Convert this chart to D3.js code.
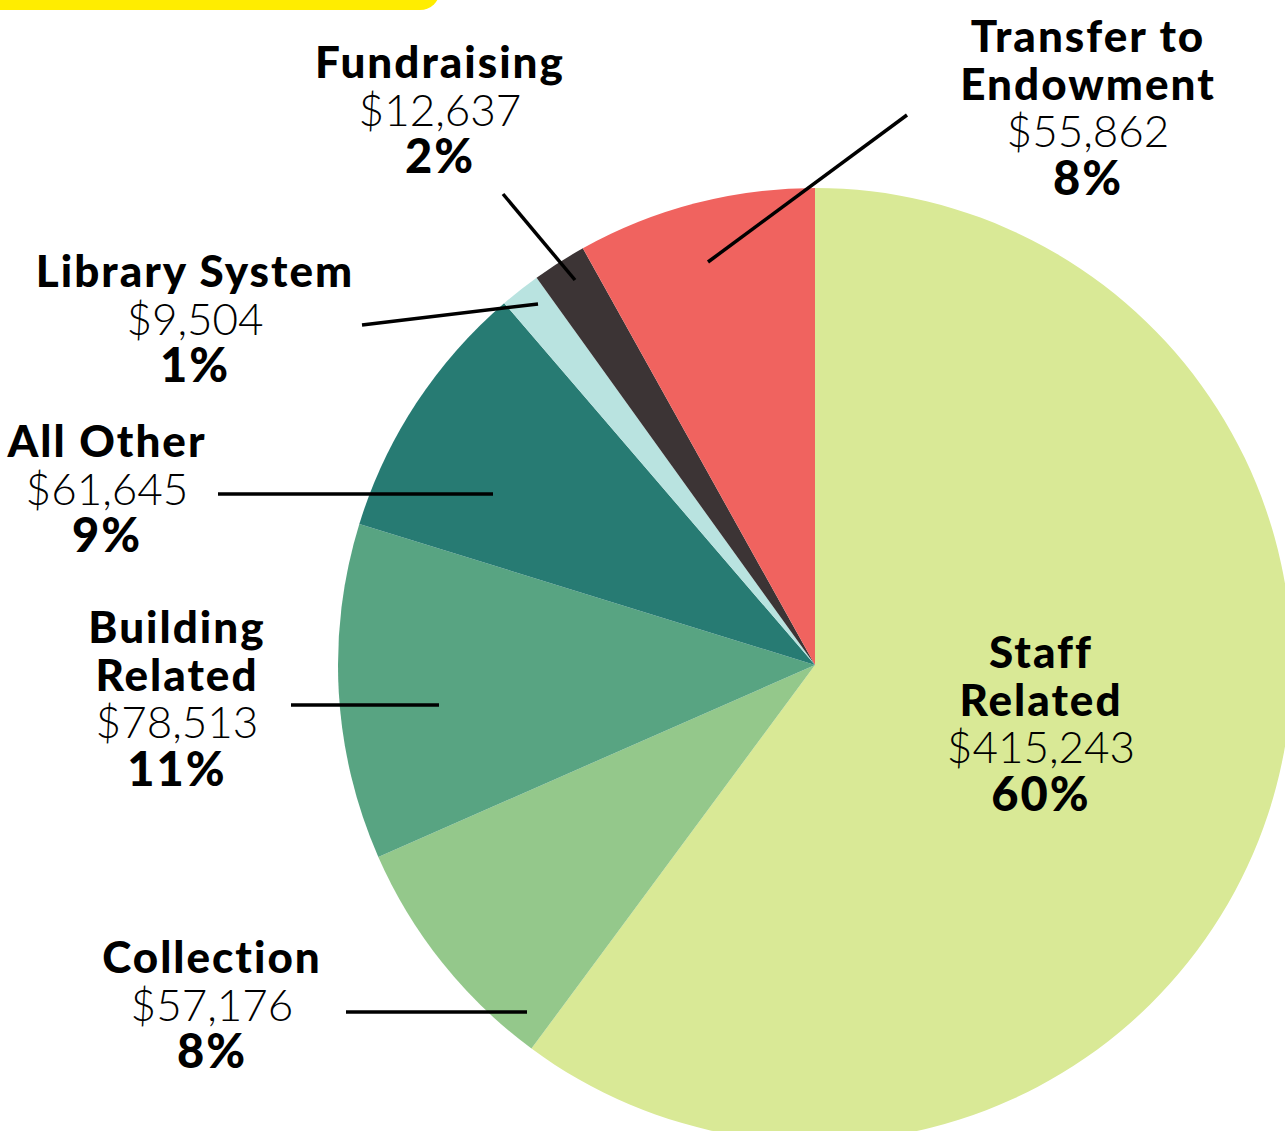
<!DOCTYPE html>
<html>
<head>
<meta charset="utf-8">
<script src="https://cdn.jsdelivr.net/npm/d3@7"></script>
<style>
  body { margin: 0; background: #fff; }
  svg { display: block; }
  .name { font-family: Lato, "Noto Sans", sans-serif; font-weight: 900; font-size: 44px; letter-spacing: 2px; fill: #000; }
  .amount { font-family: Lato, "Noto Sans", sans-serif; font-weight: 300; font-size: 44px; fill: #000; }
  .pct { font-family: Lato, "Noto Sans", sans-serif; font-weight: 900; font-size: 47px; letter-spacing: 2px; fill: #000; }
</style>
</head>
<body>
<div id="chart"></div>
<script>
var WIDTH = 1285;
var HEIGHT = 1131;

// data, clockwise from 12 o'clock
var categories = ['Staff Related', 'Collection', 'Building Related', 'All Other', 'Library System', 'Fundraising', 'Transfer to Endowment'];
var amounts = [415243, 57176, 78513, 61645, 9504, 12637, 55862];
var pctLabels = ['60%', '8%', '11%', '9%', '1%', '2%', '8%'];
var nameLines = [['Staff', 'Related'], ['Collection'], ['Building', 'Related'], ['All Other'], ['Library System'], ['Fundraising'], ['Transfer to', 'Endowment']];
var colors = ['#d9e996', '#94c88b', '#58a482', '#277b73', '#b9e3e0', '#3c3435', '#f0635f'];

// label placement (first baseline) and leader lines, in page pixels
var labelPos = [
  { x: 1041, y: 668, line: null },
  { x: 212, y: 973, line: [346, 1012, 527, 1012] },
  { x: 177, y: 643, line: [291, 705, 439, 705] },
  { x: 107, y: 457, line: [218, 494, 493, 494] },
  { x: 195, y: 287, line: [362, 325, 538, 304] },
  { x: 440, y: 78, line: [503, 194, 575, 280] },
  { x: 1088, y: 52, line: [907, 115, 708, 262] }
];

var cx = 815, cy = 665, radius = 477;
var lineH = 47.5;

var svg = d3.select('#chart').append('svg').attr('width', WIDTH).attr('height', HEIGHT);

svg.append('rect').attr('width', WIDTH).attr('height', HEIGHT).attr('fill', '#fff');

// yellow tab in the corner
svg.append('path')
  .attr('d', 'M0,-20 H440 V-10 A20,20 0 0 1 420,10 H0 Z')
  .attr('fill', '#ffed00');

var pie = d3.pie().sort(null).value(function (d) { return d; });
var arc = d3.arc().innerRadius(0).outerRadius(radius);

var g = svg.append('g').attr('transform', 'translate(' + cx + ',' + cy + ')');

g.selectAll('path')
  .data(pie(amounts))
  .enter()
  .append('path')
  .attr('d', arc)
  .attr('fill', function (d, i) { return colors[i]; });

// leader lines
svg.selectAll('line.leader')
  .data(labelPos.filter(function (p) { return p.line; }))
  .enter()
  .append('line')
  .attr('class', 'leader')
  .attr('x1', function (p) { return p.line[0]; })
  .attr('y1', function (p) { return p.line[1]; })
  .attr('x2', function (p) { return p.line[2]; })
  .attr('y2', function (p) { return p.line[3]; })
  .attr('stroke', '#000')
  .attr('stroke-width', 3.5);

// labels
categories.forEach(function (c, i) {
  var p = labelPos[i];
  var t = svg.append('text').attr('text-anchor', 'middle');
  var row = 0;
  nameLines[i].forEach(function (s) {
    t.append('tspan').attr('class', 'name').attr('x', p.x).attr('y', p.y + row * lineH).text(s);
    row++;
  });
  t.append('tspan').attr('class', 'amount').attr('x', p.x).attr('y', p.y + row * lineH)
    .text('$' + d3.format(',')(amounts[i]));
  row++;
  t.append('tspan').attr('class', 'pct').attr('x', p.x).attr('y', p.y + row * lineH).text(pctLabels[i]);
});
</script>
</body>
</html>
